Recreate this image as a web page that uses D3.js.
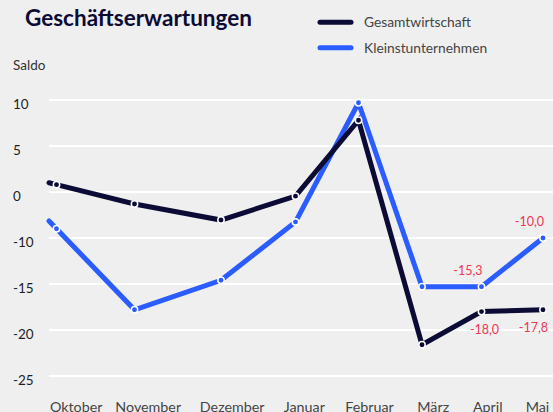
<!DOCTYPE html>
<html>
<head>
<meta charset="utf-8">
<script src="https://cdn.jsdelivr.net/npm/d3@7"></script>
<style>
  body { margin: 0; background: #efefef; }
  svg { display: block; font-family: Lato, "Noto Sans", sans-serif; }
</style>
</head>
<body>
<svg id="chart"></svg>
<script>
// data
const months = ['Oktober', 'November', 'Dezember', 'Januar', 'Februar', 'März', 'April', 'Mai'];
const gesamt = [0.8, -2.6, -6.1, -0.9, 7.8, -21.6, -18.0, -17.8];
const kleinst = [-8.0, -17.8, -14.6, -6.5, 9.7, -15.3, -15.3, -10.0];
const yTicks = [10, 5, 0, -10, -15, -20, -25];
// labelled values: [series, month index, above/below]
const annotations = [
    {series: 'kleinst', month: 7, pos: 'above'},
    {series: 'kleinst', month: 6, pos: 'above'},
    {series: 'gesamt', month: 6, pos: 'below'},
    {series: 'gesamt', month: 7, pos: 'below'}
];

const series = [
    {key: 'kleinst', name: 'Kleinstunternehmen', values: kleinst, color: '#2b5cff'},
    {key: 'gesamt', name: 'Gesamtwirtschaft', values: gesamt, color: '#0b0b36'}
];

const width = 553, height = 412;
// the reference spaces its months unevenly, so the x scales are piecewise
const pointX = [56.5, 134.5, 221, 295.5, 358.5, 422, 481.5, 543];
const labelX = [75.7, 147.7, 231.7, 303.8, 369, 432.7, 487.3, 537];
const plotLeft = 49, yTop = 100, yStep = 46;

const de = d3.formatLocale({decimal: ',', thousands: '.', grouping: [3], currency: ['', ' €'], minus: '-'});
const fmt1 = de.format('.1f');
const fmt0 = de.format('d');

const svg = d3.select('#chart').attr('width', width).attr('height', height);

const xScale = d3.scaleLinear().domain(d3.range(months.length)).range(pointX);
const xLabel = d3.scaleLinear().domain(d3.range(months.length)).range(labelX);
const yScale = d3.scaleLinear().domain(yTicks).range(yTicks.map((d, i) => yTop + i * yStep));

// gridlines
svg.append('g')
    .selectAll('line')
    .data(yTicks)
    .join('line')
    .attr('x1', plotLeft)
    .attr('x2', width)
    .attr('y1', d => yScale(d))
    .attr('y2', d => yScale(d))
    .attr('stroke', '#ffffff')
    .attr('stroke-width', 2);

// y axis labels
const yAxis = d3.axisRight(yScale).tickValues(yTicks).tickSize(0).tickPadding(0).tickFormat(fmt0);
svg.append('g')
    .attr('transform', 'translate(13,4)')
    .call(yAxis)
    .call(g => g.select('.domain').remove())
    .call(g => g.selectAll('text')
        .attr('fill', '#1e1e1e')
        .style('font-size', '13.5px')
        .style('font-family', 'Lato, sans-serif'));

// x axis labels
const xAxis = d3.axisBottom(xLabel).tickValues(d3.range(months.length)).tickSize(0).tickPadding(0)
    .tickFormat(i => months[i]);
svg.append('g')
    .attr('transform', 'translate(0,402)')
    .call(xAxis)
    .call(g => g.select('.domain').remove())
    .call(g => g.selectAll('text')
        .attr('fill', '#444')
        .style('font-size', '14.3px')
        .style('font-family', 'Lato, sans-serif'));

svg.append('text')
    .attr('x', 13)
    .attr('y', 70)
    .attr('fill', '#333')
    .style('font-size', '13.5px')
    .text('Saldo');

// title
svg.append('text')
    .attr('x', 25)
    .attr('y', 26)
    .attr('fill', '#0b0b36')
    .style('font-size', '22.5px')
    .style('font-weight', 700)
    .text('Geschäftserwartungen');

// legend
const legend = svg.append('g')
    .selectAll('g')
    .data(series.slice().reverse())
    .join('g')
    .attr('transform', (d, i) => `translate(318,${22.3 + i * 25.4})`);
legend.append('line')
    .attr('x1', 2).attr('x2', 33)
    .attr('stroke', d => d.color)
    .attr('stroke-width', 5)
    .attr('stroke-linecap', 'round');
legend.append('text')
    .attr('x', 46)
    .attr('dy', '0.35em')
    .attr('fill', '#444')
    .style('font-size', '13.8px')
    .text(d => d.name);

// lines: the first segment runs back to the plot's left edge as in the reference
const line = d3.line().x(d => d[0]).y(d => d[1]);
const pathPoints = s => {
    const pts = s.values.map((v, i) => [xScale(i), yScale(v)]);
    const [a, b] = pts;
    const t = (plotLeft - a[0]) / (b[0] - a[0]);
    return [[plotLeft, a[1] + t * (b[1] - a[1])], ...pts];
};

svg.append('g')
    .selectAll('path')
    .data(series)
    .join('path')
    .attr('d', d => line(pathPoints(d)))
    .attr('fill', 'none')
    .attr('stroke', d => d.color)
    .attr('stroke-width', 5)
    .attr('stroke-linecap', 'round')
    .attr('stroke-miterlimit', 2.5);

// markers
series.forEach(s => {
    svg.append('g')
        .selectAll('circle')
        .data(s.values)
        .join('circle')
        .attr('cx', (d, i) => xScale(i))
        .attr('cy', d => yScale(d))
        .attr('r', 3.2)
        .attr('fill', s.color)
        .attr('stroke', '#ffffff')
        .attr('stroke-width', 1.5);
});

// value labels
const byKey = Object.fromEntries(series.map(s => [s.key, s]));
svg.append('g')
    .selectAll('text')
    .data(annotations)
    .join('text')
    .attr('x', d => xScale(d.month) + (d.pos === 'below' && d.month === 6 ? 3 : (d.pos === 'below' ? 5 : 1)))
    .attr('y', d => yScale(byKey[d.series].values[d.month]) + (d.pos === 'above' ? -12 : 22))
    .attr('text-anchor', d => (d.pos === 'below' && d.month === 6) ? 'middle' : 'end')
    .attr('fill', '#f0354f')
    .style('font-size', '12.5px')
    .text(d => fmt1(byKey[d.series].values[d.month]));
</script>
</body>
</html>
